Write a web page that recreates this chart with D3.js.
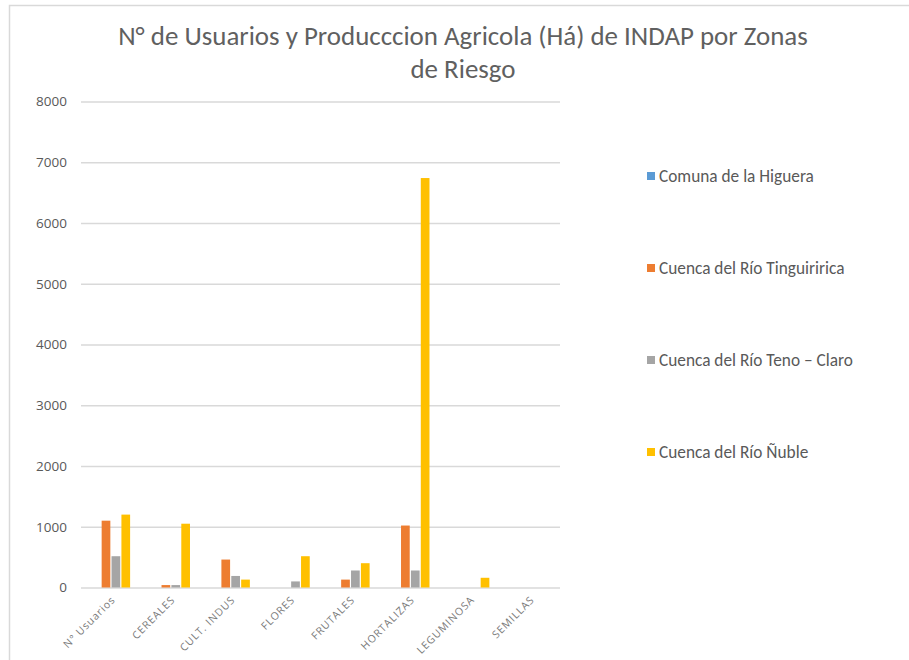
<!DOCTYPE html>
<html>
<head>
<meta charset="utf-8">
<script src="https://cdn.jsdelivr.net/npm/d3@7"></script>
<style>
html,body{margin:0;padding:0;background:#fff;}
svg{display:block;}
</style>
</head>
<body>
<svg id="chart" width="909" height="660"></svg>
<script>
const categories = ["N° Usuarios","CEREALES","CULT. INDUS","FLORES","FRUTALES","HORTALIZAS","LEGUMINOSA","SEMILLAS"];
const seriesNames = ["Comuna de la Higuera","Cuenca del Río Tinguiririca","Cuenca del Río Teno – Claro","Cuenca del Río Ñuble"];
const higuera     = [0,0,0,0,0,0,0,0];
const tinguiririca = [1100,40,460,0,130,1020,0,0];
const tenoClaro   = [515,40,190,100,280,280,0,0];
const nuble       = [1200,1050,130,515,400,6740,160,0];
const colors = ["#5B9BD5","#ED7D31","#A5A5A5","#FFC000"];
const yTicks = [0,1000,2000,3000,4000,5000,6000,7000,8000];
const titleLines = ["N° de Usuarios y Producccion Agricola (Há) de INDAP por Zonas","de Riesgo"];

const seriesValues = [higuera, tinguiririca, tenoClaro, nuble];
const svg = d3.select("#chart");
const font = "Calibri, Carlito, 'Open Sans', sans-serif";

// outer frame
svg.append("rect").attr("x",9.5).attr("y",5.5).attr("width",920).attr("height",680)
  .attr("fill","#fff").attr("stroke","#d9d9d9").attr("stroke-width",1.5);

const pLeft = 81, pRight = 560, pTop = 101.5, pBottom = 587.5;
const y = d3.scaleLinear().domain([0,8000]).range([pBottom, pTop]);
const x0 = d3.scaleBand().domain(categories).range([pLeft,pRight]).paddingInner(0.32).paddingOuter(0.16);
const x1 = d3.scaleBand().domain(d3.range(seriesNames.length)).range([0,x0.bandwidth()]).padding(0.12);

// gridlines
const yAxis = d3.axisLeft(y).tickValues(yTicks).tickSize(-(pRight-pLeft)).tickPadding(14).tickFormat(d3.format("d"));
const gy = svg.append("g").attr("transform",`translate(${pLeft},0)`).call(yAxis);
gy.select(".domain").remove();
gy.selectAll(".tick line").attr("stroke","#d9d9d9").attr("stroke-width",1.3);
gy.selectAll(".tick text").attr("fill","#595959").attr("font-family","'Open Sans', sans-serif").attr("font-size",13.5);

// bars
const groups = svg.append("g").selectAll("g").data(categories).join("g")
  .attr("transform",d=>`translate(${x0(d)},0)`);
groups.selectAll("rect").data((c,i)=>seriesValues.map((s,j)=>({j, v:s[i]}))).join("rect")
  .attr("x",d=>x1(d.j)).attr("width",x1.bandwidth())
  .attr("y",d=>y(d.v)).attr("height",d=>y(0)-y(d.v))
  .attr("fill",d=>colors[d.j]);

// x labels
const xAxis = d3.axisBottom(x0).tickSize(0).tickPadding(0);
const gx = svg.append("g").attr("transform",`translate(0,${pBottom})`).call(xAxis);
gx.select(".domain").remove();
gx.selectAll(".tick text").attr("fill","#7a7a7a").attr("font-family","'Open Sans', sans-serif")
  .attr("font-size",10.5).attr("letter-spacing",0.9).attr("text-anchor","end").attr("dy",0)
  .attr("transform","translate(5,13) rotate(-45)");

// title
const tl = svg.append("g").selectAll("text").data(titleLines).join("text")
  .attr("x",463).attr("y",(d,i)=>45+i*33)
  .attr("text-anchor","middle").attr("fill","#606060")
  .attr("font-family",font).attr("font-size",20).text(d=>d);
const w0 = tl.nodes()[0].getComputedTextLength();
tl.attr("font-size",20*690/w0);

// legend
const lg = svg.append("g").selectAll("g").data(seriesNames).join("g")
  .attr("transform",(d,i)=>`translate(647,${176+i*92})`);
lg.append("rect").attr("x",0).attr("y",-4).attr("width",8).attr("height",8).attr("fill",(d,i)=>colors[i]);
const lt = lg.append("text").attr("x",12).attr("y",0).attr("dy","0.35em").attr("fill","#595959")
  .attr("font-family",font).attr("font-size",13).text(d=>d);
const lw = lt.nodes()[0].getComputedTextLength();
lt.attr("font-size",13*155/lw);
</script>
</body>
</html>
